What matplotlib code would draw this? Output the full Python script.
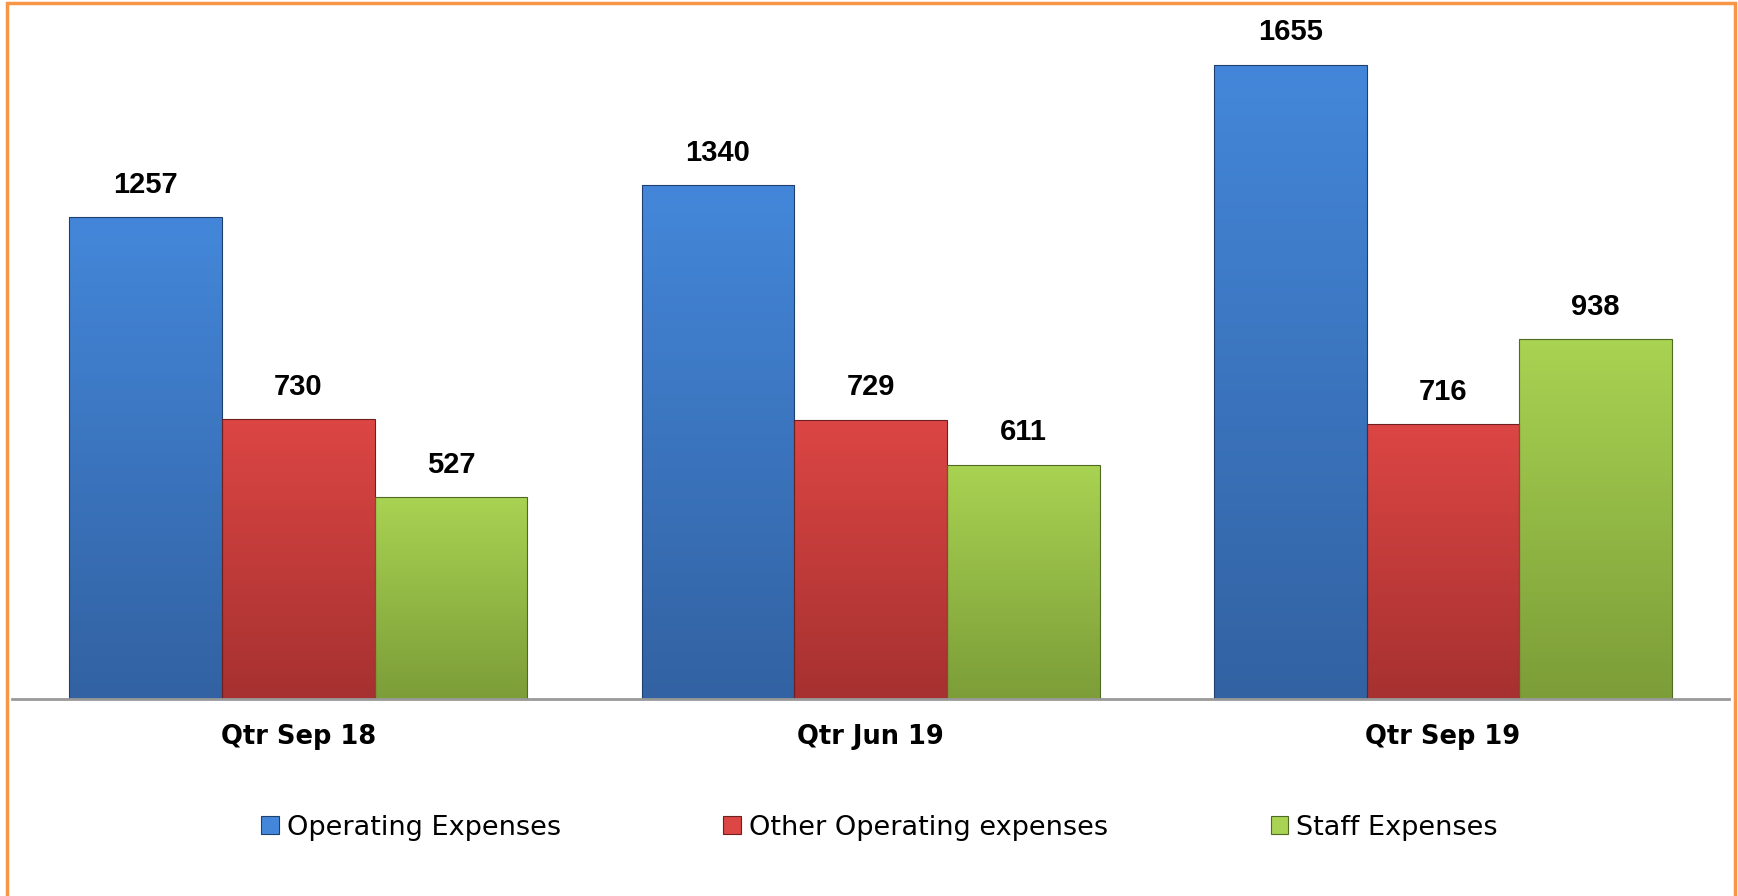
import matplotlib.pyplot as plt
import matplotlib.patches as mpatches
from matplotlib.colors import LinearSegmentedColormap
import numpy as np

quarters = ["Qtr Sep 18", "Qtr Jun 19", "Qtr Sep 19"]
series_names = ["Operating Expenses", "Other Operating expenses", "Staff Expenses"]
operating = [1257, 1340, 1655]
other_operating = [730, 729, 716]
staff = [527, 611, 938]

# (top colour, bottom colour) for the gradient fills
shades = [("#4487DA", "#3262A2"), ("#DC4644", "#A63130"), ("#A9D352", "#7C9D38")]
edges = ["#1F3F6E", "#6E1F1F", "#4F6A22"]

fig = plt.figure(figsize=(17.38, 8.96), dpi=100)
ax = fig.add_axes([0.0069, 0.2199, 0.9880, 0.7701])

x = np.arange(len(quarters))
width = 0.8 / 3
grad = np.linspace(1, 0, 256).reshape(-1, 1)

for i, (name, vals) in enumerate(zip(series_names, [operating, other_operating, staff])):
    cmap = LinearSegmentedColormap.from_list(name, [shades[i][1], shades[i][0]])
    bars = ax.bar(x + (i - 1) * width, vals, width, color=shades[i][0],
                  edgecolor=edges[i], linewidth=0.8, label=name, zorder=2)
    for b, v in zip(bars, vals):
        bx, by = b.get_x(), b.get_y()
        bw, bh = b.get_width(), b.get_height()
        b.set_facecolor("none")
        im = ax.imshow(grad, cmap=cmap, aspect="auto", extent=(bx, bx + bw, by, by + bh),
                       zorder=1, interpolation="bicubic")
        im.set_clip_path(b)
        ax.text(bx + bw / 2, by + bh + 48, str(v), ha="center",
                va="bottom", fontsize=21, fontweight="bold", family="Liberation Sans")

ax.set_xlim(-0.5, 2.5)
ax.set_ylim(0, 1800)
for s in ["top", "left", "right"]:
    ax.spines[s].set_visible(False)
ax.spines["bottom"].set_color("#999999")
ax.spines["bottom"].set_linewidth(2)
ax.spines["bottom"].set_zorder(3)
ax.set_yticks([])
ax.set_xticks(x)
ax.set_xticklabels(quarters, fontsize=18.5, fontweight="bold", family="DejaVu Sans")
ax.tick_params(axis="x", length=0, pad=18)

handles = [mpatches.Patch(facecolor=shades[i][0], edgecolor=edges[i], linewidth=0.8)
           for i in range(3)]
fig.legend(handles, series_names, loc="center", bbox_to_anchor=(0.506, 0.076), ncol=3,
           frameon=False, handlelength=0.65, handleheight=0.65,
           handletextpad=0.3, columnspacing=6.0, prop={"family": "DejaVu Sans", "size": 19.5})

fig.add_artist(mpatches.Rectangle((0.004, -0.05), 0.994, 1.047, transform=fig.transFigure,
                                  fill=False, edgecolor="#F79646", linewidth=2.5))

fig.savefig("out.png", dpi=100)
